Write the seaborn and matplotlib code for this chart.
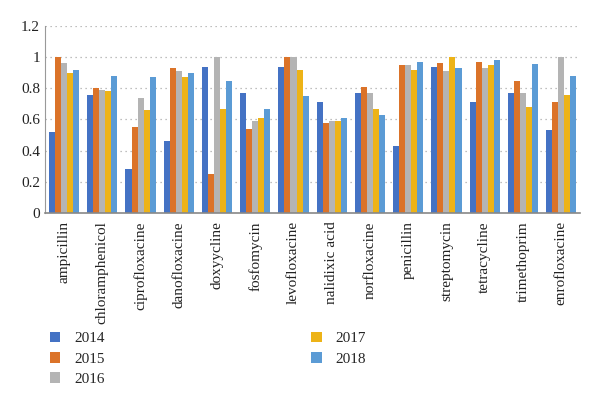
import matplotlib
matplotlib.use('Agg')
import numpy as np
import pandas as pd
import seaborn as sns
import matplotlib.pyplot as plt
from matplotlib.ticker import FuncFormatter

# antibiotics on the x axis
drugs = ['ampicillin', 'chloramphenicol', 'ciprofloxacine', 'danofloxacine',
         'doxyycline', 'fosfomycin', 'levofloxacine', 'nalidixic acid',
         'norfloxacine', 'penicillin', 'streptomycin', 'tetracycline',
         'trimethoprim', 'enrofloxacine']
years = ['2014', '2015', '2016', '2017', '2018']

# values, one list per year
v2014 = [0.52, 0.76, 0.28, 0.46, 0.94, 0.77, 0.94, 0.71, 0.77, 0.43, 0.94, 0.71, 0.77, 0.53]
v2015 = [1.00, 0.80, 0.55, 0.93, 0.25, 0.54, 1.00, 0.58, 0.81, 0.95, 0.96, 0.97, 0.85, 0.71]
v2016 = [0.96, 0.79, 0.74, 0.91, 1.00, 0.59, 1.00, 0.59, 0.77, 0.95, 0.91, 0.93, 0.77, 1.00]
v2017 = [0.90, 0.78, 0.66, 0.87, 0.67, 0.61, 0.92, 0.59, 0.67, 0.92, 1.00, 0.95, 0.68, 0.76]
v2018 = [0.92, 0.88, 0.87, 0.90, 0.85, 0.67, 0.75, 0.61, 0.63, 0.97, 0.93, 0.98, 0.955, 0.88]

colors = ['#4472C4', '#DB7329', '#B4B4B4', '#EDB317', '#5B9BD5']

df = pd.DataFrame({'drug': drugs * 5,
                   'year': np.repeat(years, len(drugs)),
                   'value': v2014 + v2015 + v2016 + v2017 + v2018})

sns.set_style('white')
plt.rcParams['font.family'] = ['Liberation Serif', 'DejaVu Serif']

fig = plt.figure(figsize=(6, 3.95), dpi=100)
ax = fig.add_axes([0.075, 0.461, 0.892, 0.473])

sns.barplot(data=df, x='drug', y='value', hue='year', palette=colors,
            width=0.79, saturation=1, ax=ax, errorbar=None, linewidth=0)

ax.set_ylim(0, 1.2)
ax.set_xlim(-0.5, len(drugs) - 0.5)
ax.set_yticks(np.arange(0, 1.21, 0.2))
ax.yaxis.set_major_formatter(FuncFormatter(lambda v, p: f'{v:g}'))
ax.yaxis.grid(True, linestyle=(0, (1, 3)), color='#AAAAAA', linewidth=0.9)
ax.set_axisbelow(True)
ax.set_xlabel('')
ax.set_ylabel('')

for s in ['top', 'right']:
    ax.spines[s].set_visible(False)
ax.spines['left'].set_color('#999999')
ax.spines['bottom'].set_color('#888888')
ax.spines['bottom'].set_linewidth(1.2)

ax.set_xticks(range(len(drugs)))
ax.set_xticklabels(drugs, rotation=90, fontsize=11, color='#222222')
ax.set_xticks(np.arange(-0.5, len(drugs), 1), minor=True)
ax.tick_params(axis='x', which='major', length=0, pad=6)
ax.tick_params(axis='x', which='minor', length=4, color='#888888', width=1)
ax.tick_params(axis='y', length=0, labelsize=11, colors='#222222')

handles, labels = ax.get_legend_handles_labels()
ax.legend_.remove()
fig.legend(handles, labels, ncol=2, loc='upper left', bbox_to_anchor=(0.06, 0.195),
           frameon=False, fontsize=11, handlelength=0.7, handleheight=0.7,
           columnspacing=13.5, labelspacing=0.42, handletextpad=0.9)

fig.savefig('out.png', dpi=100)
